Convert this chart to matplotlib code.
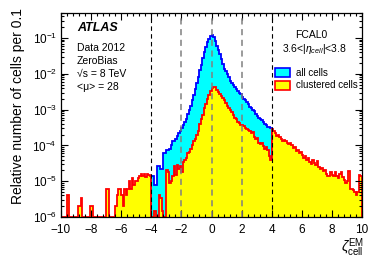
import numpy as np
import matplotlib
matplotlib.use('Agg')
import matplotlib.pyplot as plt
from matplotlib.patches import Rectangle
from matplotlib.ticker import MultipleLocator, LogLocator

plt.rcParams['font.family'] = ['Liberation Sans', 'DejaVu Sans']
plt.rcParams['mathtext.fontset'] = 'custom'
plt.rcParams['mathtext.rm'] = 'Liberation Sans'
plt.rcParams['mathtext.it'] = 'Liberation Sans:italic'

# bins of 0.1 in zeta_cell^EM
edges_clustered = np.round(np.arange(-10.0, 10.01, 0.1), 1)
edges_all = np.round(np.arange(-4.0, 4.01, 0.1), 1)

# clustered cells, -10 .. 10
clustered = [
    # -10.0 .. -7.0
    0, 0, 0, 0, 4e-6, 0, 0, 0, 0, 0,
    0, 2e-6, 2e-6, 3.5e-6, 0, 0, 0, 0, 0, 2e-6,
    2e-6, 0, 0, 0, 0, 0, 0, 0, 0, 0,
    # -7.0 .. -4.0
    6e-6, 6e-6, 0, 0, 0, 0, 2e-6, 4e-6, 6e-6, 6e-6,
    4e-6, 2e-6, 6e-6, 4e-6, 6e-6, 1e-5, 6e-6, 1.2e-5, 8e-6, 1e-5,
    1e-5, 1.2e-5, 1.4e-5, 1.6e-5, 1.4e-5, 1.6e-5, 1.3e-5, 1.6e-5, 1.5e-5, 1.4e-5,
    # -4.0 .. -1.0
    0, 0, 1.5e-6, 0, 0, 4e-6, 3.5e-6, 1.5e-6, 0, 1e-6,
    2e-5, 1.8e-5, 9e-6, 1e-5, 1.4e-5, 2.6e-5, 1.5e-5, 2.8e-5, 2.2e-5, 2.6e-5,
    1.8e-5, 3.5e-5, 4e-5, 4.5e-5, 6e-5, 6.5e-5, 8e-5, 1e-4, 1.3e-4, 1.5e-4,
    # -1.0 .. 2.0
    2e-4, 2.5e-4, 4e-4, 5.5e-4, 7e-4, 1.1e-3, 1.4e-3, 2e-3, 2.6e-3, 3.3e-3,
    4e-3, 4.3e-3, 4.2e-3, 3.6e-3, 3.2e-3, 2.8e-3, 2.4e-3, 2.1e-3, 1.8e-3, 1.5e-3,
    1.3e-3, 1.1e-3, 1e-3, 8.5e-4, 7e-4, 6e-4, 5.5e-4, 4.5e-4, 4.2e-4, 3.6e-4,
    # 2.0 .. 5.0
    3.6e-4, 3.4e-4, 3e-4, 2.8e-4, 2.7e-4, 2.5e-4, 2.2e-4, 2.3e-4, 1.7e-4, 1.5e-4,
    1.6e-4, 1.2e-4, 1.1e-4, 1.2e-4, 9.5e-5, 8e-5, 9e-5, 7.5e-5, 5e-5, 4e-5,
    2.8e-4, 2.5e-4, 2.2e-4, 1.8e-4, 2e-4, 1.7e-4, 1.5e-4, 1.3e-4, 1.4e-4, 1.3e-4,
    # 5.0 .. 8.0
    1.2e-4, 1.1e-4, 1.2e-4, 1e-4, 8.5e-5, 9e-5, 7e-5, 7.5e-5, 6e-5, 6.5e-5,
    5.5e-5, 4.5e-5, 5e-5, 4e-5, 4.5e-5, 3.5e-5, 3e-5, 4e-5, 3.2e-5, 2.8e-5,
    3.6e-5, 2.5e-5, 2.2e-5, 2.4e-5, 1.9e-5, 2e-5, 1.6e-5, 1.4e-5, 1.4e-5, 1.8e-5,
    # 8.0 .. 10.0
    1.5e-5, 1.4e-5, 1.8e-5, 1.4e-5, 1.2e-5, 1.6e-5, 1.8e-5, 1.3e-5, 1.1e-5, 9e-6,
    1e-5, 1.9e-5, 6e-6, 6e-6, 5.5e-6, 5e-6, 4e-6, 5e-6, 1.5e-5, 1.4e-5,
]

# all cells, -4 .. 4
all_cells = [
    1.4e-5, 1.4e-5, 8e-6, 8e-6, 2.6e-5, 2.6e-5, 2.2e-5, 2.2e-5, 6e-5, 6e-5,
    7.5e-5, 7.5e-5, 8e-5, 1e-4, 1.3e-4, 1.3e-4, 1.5e-4, 1.8e-4, 2.2e-4, 2.6e-4,
    3e-4, 3.8e-4, 4.4e-4, 5.5e-4, 7.5e-4, 1e-3, 1.3e-3, 1.8e-3, 2.6e-3, 3.8e-3,
    5.5e-3, 8e-3, 1.3e-2, 1.8e-2, 2.8e-2, 4e-2, 5.5e-2, 7.5e-2, 9.5e-2, 0.115,
    0.125, 0.11, 0.085, 0.06, 0.045, 0.035, 0.026, 0.019, 0.014, 0.012,
    0.01, 8e-3, 6.5e-3, 5.5e-3, 5e-3, 4.3e-3, 3.8e-3, 3.4e-3, 3e-3, 2.8e-3,
    2.3e-3, 2e-3, 1.8e-3, 1.6e-3, 1.4e-3, 1.2e-3, 1.1e-3, 1e-3, 9e-4, 7.5e-4,
    6.8e-4, 6e-4, 5.5e-4, 5e-4, 4.5e-4, 4e-4, 3.6e-4, 3.3e-4, 3.2e-4, 3e-4,
]

fig = plt.figure(figsize=(3.82, 2.60), dpi=100)
ax = fig.add_axes([61/382, 1-217/260, 301/382, 204/260])
ax.set_yscale('log')

ymin = 1e-6
ax.stairs(np.clip(all_cells, ymin, None), edges_all, fill=True, baseline=1e-8,
          facecolor='#00ffff', edgecolor='none')
ax.stairs(np.clip(all_cells, ymin, None), edges_all, baseline=1e-8,
          color='#0000ff', lw=1.3)
ax.stairs(np.clip(clustered, ymin, None), edges_clustered, fill=True, baseline=1e-8,
          facecolor='#ffff00', edgecolor='none')
ax.stairs(np.clip(clustered, ymin, None), edges_clustered, baseline=1e-8,
          color='#ff0000', lw=1.3)

for xv in [-2, 0, 2]:
    ax.axvline(xv, color='#808080', lw=1.1, ls=(0, (4, 3)))
for xv in [-4, 4]:
    ax.axvline(xv, color='black', lw=0.8, ls=(0, (4, 3)))

ax.set_xlim(-10, 10)
ax.set_ylim(ymin, 0.5)
ax.xaxis.set_major_locator(MultipleLocator(2))
ax.xaxis.set_minor_locator(MultipleLocator(0.4))
ax.yaxis.set_major_locator(LogLocator(base=10, numticks=10))
ax.yaxis.set_minor_locator(LogLocator(base=10, subs=np.arange(2, 10), numticks=10))
ax.tick_params(which='both', direction='in', top=True, right=True, labelsize=8.5, width=0.8)
ax.tick_params(which='major', length=5)
ax.tick_params(which='minor', length=2.5)
ax.tick_params(axis='x', pad=5)
ax.tick_params(axis='y', pad=3)
for s in ax.spines.values():
    s.set_linewidth(0.9)

fig.text(18/382, 1-8/260, 'Relative number of cells per 0.1', rotation=90,
         ha='center', va='top', fontsize=10)
fig.text(364/382, 1/260, r'$\zeta^{\rm EM}_{\rm cell}$', ha='right', va='bottom', fontsize=10)

ax.text(0.053, 0.926, 'ATLAS', transform=ax.transAxes, fontsize=9,
        fontweight='bold', fontstyle='italic', va='center')
for yy, t in [(0.828, 'Data 2012'), (0.765, 'ZeroBias'),
              (0.701, '√s = 8 TeV'), (0.637, '<μ> = 28')]:
    ax.text(0.053, yy, t, transform=ax.transAxes, fontsize=7.5, va='center')

ax.text(0.831, 0.892, 'FCAL0', transform=ax.transAxes, fontsize=7.5, ha='center', va='center')
ax.text(0.841, 0.822, r'3.6<|$\eta_{cell}$|<3.8', transform=ax.transAxes, fontsize=7.5,
        ha='center', va='center')

ax.add_patch(Rectangle((0.711, 0.686), 0.05, 0.044, transform=ax.transAxes,
                       facecolor='#00ffff', edgecolor='#0000ff', lw=1.2))
ax.add_patch(Rectangle((0.711, 0.623), 0.05, 0.044, transform=ax.transAxes,
                       facecolor='#ffff00', edgecolor='#ff0000', lw=1.2))
ax.text(0.781, 0.708, 'all cells', transform=ax.transAxes, fontsize=7, va='center')
ax.text(0.781, 0.645, 'clustered cells', transform=ax.transAxes, fontsize=7, va='center')

fig.savefig('out.png', dpi=100)
